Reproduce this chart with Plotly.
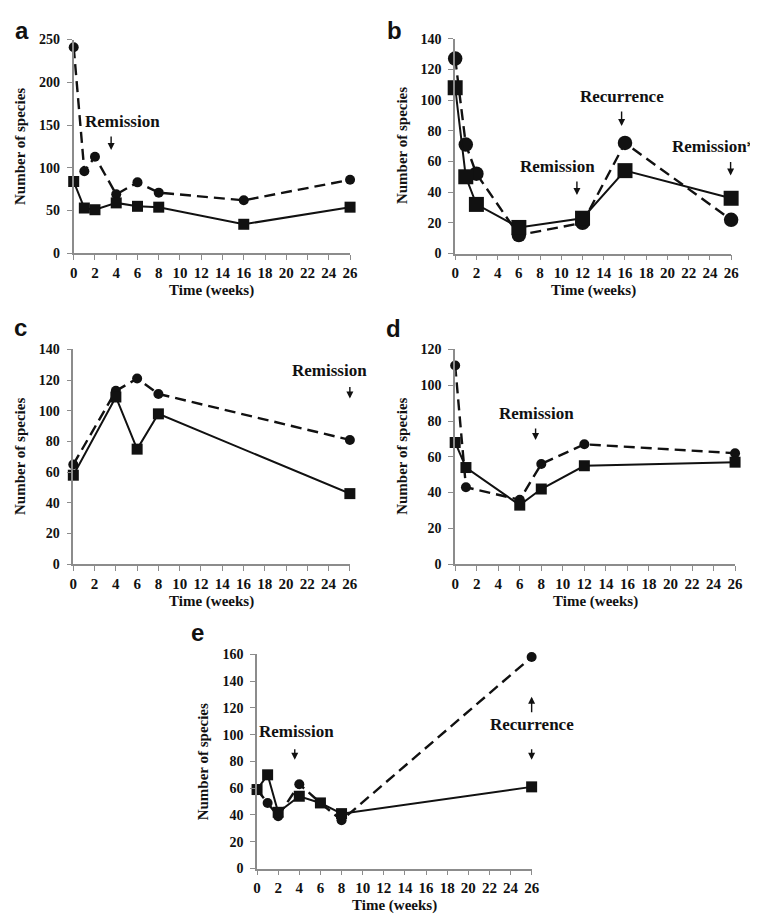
import plotly.graph_objects as go

W, H = 758, 917

# ---------------- data ----------------
weeks_a = [0, 1, 2, 4, 6, 8, 16, 26]
circles_a = [241, 96, 113, 69, 83, 71, 62, 86]
squares_a = [84, 53, 51, 59, 55, 54, 34, 54]

weeks_b = [0, 1, 2, 6, 12, 16, 26]
circles_b = [127, 71, 52, 12, 20, 72, 22]
squares_b = [108, 50, 32, 17, 23, 54, 36]

weeks_c = [0, 4, 6, 8, 26]
circles_c = [65, 113, 121, 111, 81]
squares_c = [58, 109, 75, 98, 46]

weeks_d = [0, 1, 6, 8, 12, 26]
circles_d = [111, 43, 36, 56, 67, 62]
squares_d = [68, 54, 33, 42, 55, 57]

weeks_e = [0, 1, 2, 4, 6, 8, 26]
circles_e = [59, 49, 39, 63, 49, 36, 158]
squares_e = [59, 70, 42, 54, 49, 41, 61]

x_tick_values = list(range(0, 27, 2))

# panel events: (label, x, y) text and arrows (x, y_head, tail offset px)
texts_a = [("Remission", 4.56, 154)]
arrows_a = [(3.52, 121, -15)]
texts_b = [("Recurrence", 15.73, 102), ("Remission", 9.62, 56.7)]
arrows_b = [(15.68, 83, -16), (11.47, 38.1, -15), (25.95, 50.9, -15)]
texts_c = [("Remission", 24.05, 126.5)]
arrows_c = [(26, 108, -13)]
texts_d = [("Remission", 7.6, 84)]
arrows_d = [(7.47, 69.4, -13)]
texts_e = [("Remission", 3.73, 102), ("Recurrence", 26, 107.4)]
arrows_e = [(3.57, 81.3, -12), (26, 81.3, -12), (26, 128.3, 17)]

SERIF = "Liberation Serif, Times New Roman, serif"
SANS = "Liberation Sans, Arial, sans-serif"
AXIS_COL = "#8c8c8c"

# panel layout in pixels: left, right, top, bottom; letter position (x, bottom px or None=top)
panels = [
    dict(letter="a", weeks=weeks_a, circ=circles_a, sq=squares_a, box=(62.7, 343.5, 25, 242.3),
         ymax=250, ystep=50, cs=10, ss=11, texts=texts_a, arrows=arrows_a, lpos=(1, None)),
    dict(letter="b", weeks=weeks_b, circ=circles_b, sq=squares_b, box=(450.3, 730.7, 24, 242.5),
         ymax=140, ystep=20, cs=14.5, ss=15, texts=texts_b, arrows=arrows_b, lpos=(379, None)),
    dict(letter="c", weeks=weeks_c, circ=circles_c, sq=squares_c, box=(62.3, 343.3, 340, 558.3),
         ymax=140, ystep=20, cs=10, ss=11, texts=texts_c, arrows=arrows_c, lpos=(0, 327)),
    dict(letter="d", weeks=weeks_d, circ=circles_d, sq=squares_d, box=(450.3, 734.7, 340, 558.3),
         ymax=120, ystep=20, cs=10, ss=11, texts=texts_d, arrows=arrows_d, lpos=(378, 328)),
    dict(letter="e", weeks=weeks_e, circ=circles_e, sq=squares_e, box=(249, 528, 650, 867.7),
         ymax=160, ystep=20, cs=10, ss=11, texts=texts_e, arrows=arrows_e, lpos=(180, 638)),
]


def fx(px):
    return px / W


def fy(py):
    return 1 - py / H


TEXT_FONT = dict(family=SERIF, size=17, color="#111", weight="bold")

fig = go.Figure()
layout = dict(width=W, height=H, margin=dict(l=0, r=0, t=0, b=0), autosize=False,
              paper_bgcolor="white", plot_bgcolor="white", showlegend=False)
annotations = []

for i, p in enumerate(panels):
    n = "" if i == 0 else str(i + 1)
    xa, ya = "x" + n, "y" + n
    l, r, t, b = p["box"]
    layout["xaxis" + n] = dict(
        domain=[fx(l), fx(r)], range=[0, 26], anchor=ya, tickvals=x_tick_values,
        showline=True, linecolor=AXIS_COL, linewidth=1.6, ticks="outside", ticklen=5,
        tickwidth=1.4, tickcolor=AXIS_COL, showgrid=False, zeroline=False,
        tickfont=dict(family=SERIF, size=15, color="#111", weight="bold"),
    )
    layout["yaxis" + n] = dict(
        domain=[fy(b), fy(t)], range=[0, p["ymax"]], anchor=xa,
        tickvals=list(range(0, p["ymax"] + 1, p["ystep"])),
        showline=True, linecolor=AXIS_COL, linewidth=1.6, ticks="outside", ticklen=5,
        tickwidth=1.4, tickcolor=AXIS_COL, showgrid=False, zeroline=False,
        ticklabelstandoff=4,
        tickfont=dict(family=SERIF, size=14, color="#111", weight="bold"),
    )
    fig.add_trace(go.Scatter(
        x=p["weeks"], y=p["circ"], xaxis=xa, yaxis=ya, mode="lines+markers",
        line=dict(color="#111", width=2.4, dash="11px,6px"),
        marker=dict(symbol="circle", size=p["cs"], color="#111"), cliponaxis=False))
    fig.add_trace(go.Scatter(
        x=p["weeks"], y=p["sq"], xaxis=xa, yaxis=ya, mode="lines+markers",
        line=dict(color="#111", width=2.0),
        marker=dict(symbol="square", size=p["ss"], color="#111"), cliponaxis=False))

    for txt, x, y in p["texts"]:
        annotations.append(dict(text=txt, x=x, y=y, xref=xa, yref=ya, showarrow=False,
                                xanchor="center", yanchor="middle", font=TEXT_FONT))
    for x, y, off in p["arrows"]:
        annotations.append(dict(text="", x=x, y=y, xref=xa, yref=ya, showarrow=True,
                                ax=0, ay=off, arrowhead=2, arrowsize=1, arrowwidth=1.4,
                                arrowcolor="#111", standoff=0))
    # axis titles
    annotations.append(dict(text="Time (weeks)", x=fx((l + r) / 2), y=fy(b + 38), xref="paper",
                            yref="paper", showarrow=False, xanchor="center", yanchor="middle",
                            font=dict(family=SERIF, size=15, color="#111", weight="bold")))
    annotations.append(dict(text="Number of species", x=fx(l - 54), y=fy((t + b) / 2),
                            xref="paper", yref="paper", showarrow=False, textangle=-90,
                            xanchor="center", yanchor="middle",
                            font=dict(family=SERIF, size=15, color="#111", weight="bold")))
    lx, lb = p["lpos"]
    if lb is None:
        ly, yanc = 1.0, "top"
    else:
        ly, yanc = fy(lb + 6), "bottom"
    annotations.append(dict(text=p["letter"], x=fx(lx), y=ly, xref="paper", yref="paper",
                            showarrow=False, xanchor="left", yanchor=yanc,
                            font=dict(family=SANS, size=24, color="#111", weight="bold")))

# right-edge label in panel b (anchored to the figure's right edge so it stays visible)
annotations.append(dict(text="Remission*", x=fx(757), y=fy(134), xref="paper", yref="paper",
                        showarrow=False, xanchor="right", yanchor="middle", font=TEXT_FONT))

layout["annotations"] = annotations
fig.update_layout(**layout)
fig.write_html("out.html")
